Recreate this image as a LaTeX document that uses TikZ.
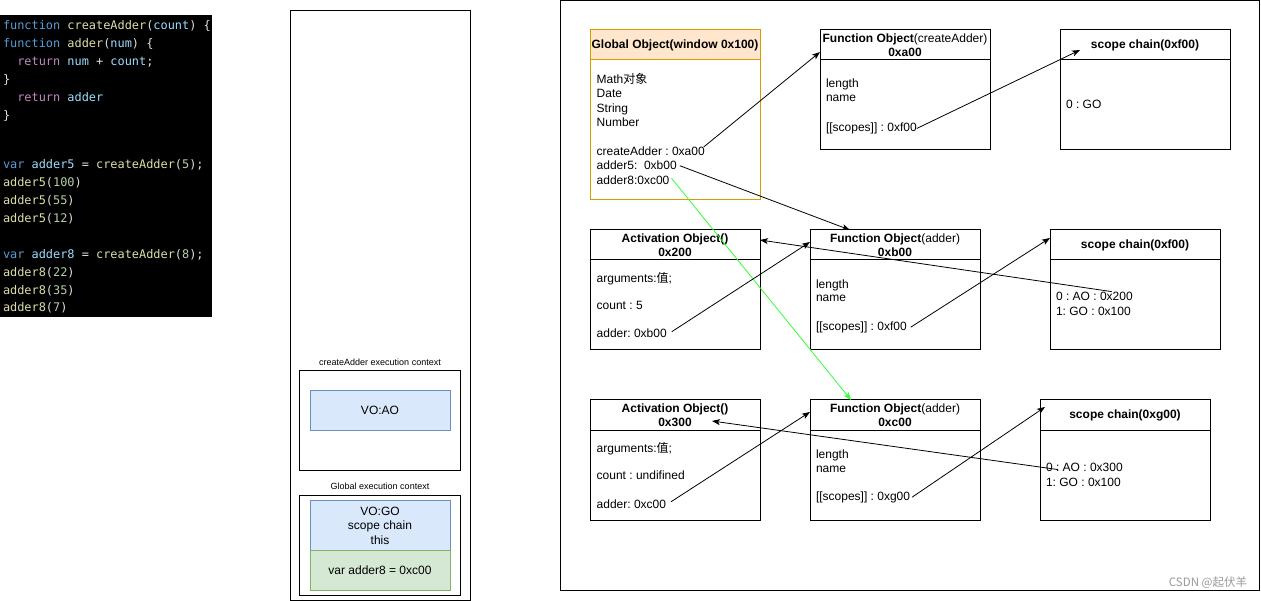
\documentclass[tikz,border=0pt]{standalone}
\usepackage{fontspec}
\setmainfont{Liberation Sans}
\newfontfamily\cjk{Noto Sans CJK SC}
\newfontfamily\codefont{DejaVu Sans Mono}
\usetikzlibrary{arrows.meta}
\definecolor{ckw}{HTML}{569CD6}
\definecolor{cfn}{HTML}{DCDCAA}
\definecolor{cvr}{HTML}{9CDCFE}
\definecolor{cct}{HTML}{C586C0}
\definecolor{cnm}{HTML}{B5CEA8}
\definecolor{cpn}{HTML}{E0E0E0}
\definecolor{cgo}{HTML}{D79B00}
\definecolor{cgofill}{HTML}{FFE6CC}
\definecolor{cblue}{HTML}{DAE8FC}
\definecolor{cbluel}{HTML}{6C8EBF}
\definecolor{cgreen}{HTML}{D5E8D4}
\definecolor{cgreenl}{HTML}{82B366}
\definecolor{cgl}{HTML}{33FF33}
\definecolor{cwm}{HTML}{999999}
\newcommand\Kw[1]{\textcolor{ckw}{#1}}
\newcommand\Fn[1]{\textcolor{cfn}{#1}}
\newcommand\Vr[1]{\textcolor{cvr}{#1}}
\newcommand\Ct[1]{\textcolor{cct}{#1}}
\newcommand\Nm[1]{\textcolor{cnm}{#1}}
\frenchspacing
\begin{document}
\frenchspacing
\begin{tikzpicture}[x=1pt,y=-1pt,
  every node/.style={inner sep=0pt, outer sep=0pt},
  txt/.style={anchor=base west, font=\fontsize{12}{14.4}\selectfont\frenchspacing},
  codeline/.style={anchor=base west, text=cpn, font=\codefont\fontsize{11.9}{14}\selectfont},
  objbox/.style={draw=black, line width=1pt, anchor=north west, minimum width=170pt, minimum height=120pt},
  hdrbox/.style={draw=black, line width=1pt, anchor=north west, minimum width=170pt, minimum height=30pt, align=center, font=\fontsize{12}{14.4}\selectfont\frenchspacing},
  ctxbox/.style={draw=black, line width=1pt, anchor=north west},
  bluebox/.style={draw=cbluel, fill=cblue, line width=1pt, anchor=north west, minimum width=140pt, align=center, font=\fontsize{12}{14.5}\selectfont},
  greenbox/.style={draw=cgreenl, fill=cgreen, line width=1pt, anchor=north west, minimum width=140pt, minimum height=40pt, font=\fontsize{12}{14.5}\selectfont},
  smalllbl/.style={font=\fontsize{9}{11}\selectfont},
  arr/.style={line width=0.8pt, -{Stealth[length=8pt,width=6pt,inset=2pt]}}
]
\fill[white] (0,0) rectangle (1261,601);
\useasboundingbox (0,0) rectangle (1261,601);

% ---------- code block ----------
\fill[black] (0,15) rectangle (212,317);
\node[codeline] (c1) at (3,30) {\Kw{function} \Fn{createAdder}(\Vr{count}) \{};
\node[codeline] (c2) at (3,48) {\Kw{function} \Fn{adder}(\Vr{num}) \{};
\node[codeline] (c3) at (3,66) {~~\Ct{return} \Vr{num} + \Vr{count};};
\node[codeline] (c4) at (3,84) {\}};
\node[codeline] (c5) at (3,102) {~~\Ct{return} \Vr{adder}};
\node[codeline] (c6) at (3,120) {\}};
\node[codeline] (c7) at (3,168.3) {\Kw{var} \Vr{adder5} = \Fn{createAdder}(\Nm{5});};
\node[codeline] (c8) at (3,186.6) {\Fn{adder5}(\Nm{100})};
\node[codeline] (c9) at (3,204.6) {\Fn{adder5}(\Nm{55})};
\node[codeline] (c10) at (3,222.3) {\Fn{adder5}(\Nm{12})};
\node[codeline] (c11) at (3,258.3) {\Kw{var} \Vr{adder8} = \Fn{createAdder}(\Nm{8});};
\node[codeline] (c12) at (3,276.3) {\Fn{adder8}(\Nm{22})};
\node[codeline] (c13) at (3,294.3) {\Fn{adder8}(\Nm{35})};
\node[codeline] (c14) at (3,312) {\Fn{adder8}(\Nm{7})};

% ---------- stack ----------
\node[ctxbox, minimum width=180pt, minimum height=590pt] (stack) at (290.5,10.5) {};
\node[smalllbl] (lbl1) at (380,362.7) {createAdder execution context};
\node[ctxbox, minimum width=161pt, minimum height=100pt] (ctx1) at (299,370.5) {};
\node[bluebox, minimum height=40pt] (voao) at (310,390.5) {VO:AO};
\node[smalllbl] (lbl2) at (380,486) {Global execution context};
\node[ctxbox, minimum width=161pt, minimum height=100pt] (ctx2) at (299,495) {};
\node[bluebox, minimum height=50pt] (vogo) at (310,500.5) {VO:GO\\scope chain\\this};
\node[greenbox] (vgreen) at (310,550.5) {var adder8 = 0xc00};

% ---------- right frame ----------
\node[ctxbox, minimum width=699pt, minimum height=589.5pt] (frame) at (560.5,0.5) {};

% ---------- Global Object ----------
\node[objbox, draw=cgo, minimum height=170pt] (go) at (590,30) {};
\node[hdrbox, draw=cgo, fill=cgofill] (goh) at (590,30) {\textbf{Global Object(window 0x100)}};
\node[txt] (gl1) at (596.7,83.6) {Math{\cjk 对象}};
\node[txt] (gl2) at (596.7,98) {Date};
\node[txt] (gl3) at (596.7,112.4) {String};
\node[txt] (gl4) at (596.7,126.8) {Number};
\node[txt] (gca) at (596.7,155.6) {createAdder : 0xa00};
\node[txt] (ga5) at (596.7,170) {adder5:\ \ 0xb00};
\node[txt] (ga8) at (596.7,184.4) {adder8:0xc00};

% ---------- Function Object createAdder ----------
\node[objbox] (foa) at (820,30) {};
\node[hdrbox] (foah) at (820,30) {\textbf{Function Object}(createAdder)\\\textbf{0xa00}};
\node[txt] (fal) at (826,87.6) {length};
\node[txt] (fan) at (826,102) {name};
\node[txt] (fas) at (826,131.6) {[[scopes]] : 0xf00};

% ---------- scope chain 0xf00 (top) ----------
\node[objbox] (sc1) at (1060,30) {};
\node[hdrbox] (sc1h) at (1060,30) {\textbf{scope chain(0xf00)}};
\node[txt] (sc1a) at (1066,108.3) {0 : GO};

% ---------- Activation Object 0x200 ----------
\node[objbox] (ao1) at (590,230) {};
\node[hdrbox] (ao1h) at (590,230) {\textbf{Activation Object()}\\\textbf{0x200}};
\node[txt] (aoa) at (596.7,282.6) {arguments:{\cjk 值};};
\node[txt] (aocnt) at (596.7,309.3) {count : 5};
\node[txt] (aob) at (596.7,338) {adder: 0xb00};

% ---------- Function Object adder 0xb00 ----------
\node[objbox] (fob) at (810,230) {};
\node[hdrbox] (fobh) at (810,230) {\textbf{Function Object}(adder)\\\textbf{0xb00}};
\node[txt] (fbl) at (816,288.6) {length};
\node[txt] (fbn) at (816,302) {name};
\node[txt] (fbs) at (816,330.3) {[[scopes]] : 0xf00};

% ---------- scope chain 0xf00 (middle) ----------
\node[objbox] (sc2) at (1050,230) {};
\node[hdrbox] (sc2h) at (1050,230) {\textbf{scope chain(0xf00)}};
\node[txt] (sca) at (1056,301) {0 : AO : 0x200};
\node[txt] (scb) at (1056,315.4) {1: GO : 0x100};

% ---------- Activation Object 0x300 ----------
\node[objbox] (ao2) at (590,400) {};
\node[hdrbox] (ao2h) at (590,400) {\textbf{Activation Object()}\\\textbf{0x300}};
\node[txt] (ao2a) at (596.7,452.6) {arguments:{\cjk 值};};
\node[txt] (ao2cnt) at (596.7,479.3) {count : undifined};
\node[txt] (aoc) at (596.7,508) {adder: 0xc00};

% ---------- Function Object adder 0xc00 ----------
\node[objbox] (foc) at (810,400) {};
\node[hdrbox] (foch) at (810,400) {\textbf{Function Object}(adder)\\\textbf{0xc00}};
\node[txt] (fcl) at (816,458.6) {length};
\node[txt] (fcn) at (816,472) {name};
\node[txt] (fcs) at (816,500.3) {[[scopes]] : 0xg00};

% ---------- scope chain 0xg00 ----------
\node[objbox] (sc3) at (1040,400) {};
\node[hdrbox] (sc3h) at (1040,400) {\textbf{scope chain(0xg00)}};
\node[txt] (scc) at (1046,471.7) {0 : AO : 0x300};
\node[txt] (scd) at (1046,486.1) {1: GO : 0x100};

% ---------- connectors ----------
\draw[arr] ([xshift=-1pt]gca.north east) -- ([yshift=-22pt]foa.north west);
\draw[arr] (fas.east) -- ([xshift=20pt,yshift=-20pt]sc1.north west);
\draw[arr] ([xshift=3pt]ga5.east) -- ([xshift=40pt]fob.north west);
\draw[arr, draw=cgl, -{Stealth[length=8pt,width=6pt,inset=2pt,fill=cgl]}] ([xshift=2pt,yshift=2pt]ga8.east) -- ([xshift=41pt]foc.north west);
\draw[arr] ([xshift=5pt,yshift=2pt]aob.east) -- ([yshift=-12pt]fob.north west);
\draw[arr] ([xshift=4pt]fbs.east) -- ([yshift=-8pt]sc2.north west);
\draw[arr] ([xshift=-21pt,yshift=1pt]sca.north east) -- ([yshift=-10pt]ao1.north east);
\draw[arr] ([xshift=5pt,yshift=2pt]aoc.east) -- ([yshift=-12pt]foc.north west);
\draw[arr] ([xshift=2pt]fcs.east) -- ([xshift=5pt,yshift=-7pt]sc3.north west);
\draw[arr] ([xshift=12pt,yshift=-2pt]scc.west) -- ([xshift=-48pt,yshift=-21pt]ao2.north east);

% ---------- watermark ----------
\node[anchor=east, text=cwm, font=\cjk\fontsize{11.5}{12}\selectfont] (wm) at (1247,583) {CSDN @起伏羊};
\end{tikzpicture}
\end{document}
